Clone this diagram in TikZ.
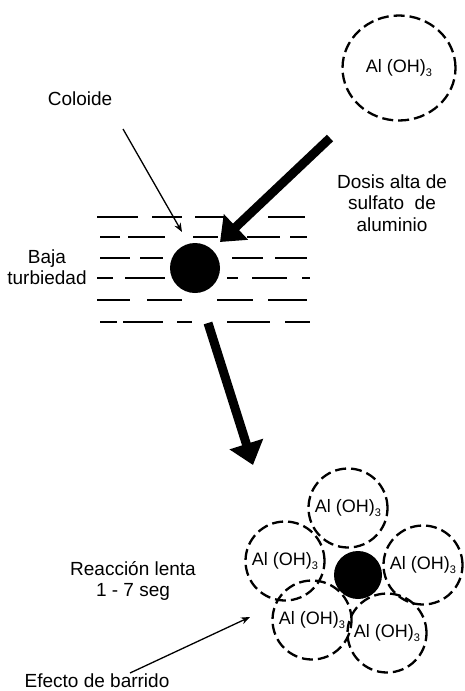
\documentclass[tikz,border=0pt]{standalone}
\usepackage{fontspec}
\setmainfont{Liberation Sans}
\usetikzlibrary{arrows.meta, shapes.geometric}
\newcommand{\subtres}{\raisebox{-4pt}{\fontsize{11}{11}\selectfont 3}}

\begin{document}
\begin{tikzpicture}[x=1pt, y=-1pt, font=\fontsize{18}{21}\selectfont,
    floc/.style={
        circle, draw, dash pattern=on 11pt off 5pt, line width=2.3pt,
        minimum size=79pt, inner sep=0pt
    },
    colloid/.style={circle, fill=black, inner sep=0pt},
    txt/.style={align=center, inner sep=0pt, font=\fontsize{19}{21.5}\selectfont},
    water/.style={line width=1.7pt},
    arr/.style={-{Triangle[length=22pt,width=34pt]}, line width=9pt},
    tarr/.style={-{Stealth[length=9pt,width=7pt]}, line width=1.3pt}
]
\useasboundingbox (0,0) rectangle (464,691);

% dosis alta
\node[ellipse, draw, dash pattern=on 11pt off 5pt, line width=2.3pt,
      minimum width=113pt, minimum height=105pt, inner sep=0pt]
      (f0) at (399,68) {Al (OH)\subtres};
\node[txt] (dosis) at (392,203) {Dosis alta de\\sulfato\ \ de\\aluminio};

% agua con baja turbiedad
\foreach \y/\segs in {217/{97/138,152/182,195/225,268/305},
                      237/{100/120,128/165,193/218,247/280,290/307},
                      258/{100/130,140/163,232/263,275/307},
                      278/{97/113,125/165,227/238,252/287,302/310},
                      300/{97/130,147/182,217/253,268/307},
                      322/{100/117,123/163,177/192,227/270,285/310}}{
    \foreach \a/\b in \segs
        \draw[water] (\a,\y) -- (\b,\y);
}
\node[colloid, minimum size=50pt] (col) at (195,268) {};
\node[txt] (coloide) at (80,99) {Coloide};
\node[txt] (baja) at (47,267) {Baja\\turbiedad};

\coordinate (k1) at (123,129);
\coordinate (k2) at (182,232);
\coordinate (d1) at (330,138);
\coordinate (d2) at (220,242);
\draw[tarr] (k1) -- (k2);
\draw[arr] (d1) -- (d2);

% barrido
\coordinate (m1) at (208,323);
\coordinate (m2) at (253,465);
\draw[arr] (m1) -- (m2);

\node[floc] (f1) at (348,508) {Al (OH)\subtres};
\node[floc] (f2) at (285,561) {Al (OH)\subtres};
\node[floc] (f3) at (423,565) {Al (OH)\subtres};
\node[floc] (f4) at (312,620) {Al (OH)\subtres};
\node[floc] (f5) at (387,633) {Al (OH)\subtres};
\node[colloid, minimum size=48pt] (col2) at (358,575) {};

\node[txt] (lenta) at (133,581) {Reacci\'on lenta\\1 - 7 seg};
\node[txt] (efecto) at (97,681) {Efecto de barrido};

\coordinate (b1) at (130,673);
\coordinate (b2) at (250,617);
\draw[tarr] (b1) -- (b2);

\end{tikzpicture}
\end{document}
